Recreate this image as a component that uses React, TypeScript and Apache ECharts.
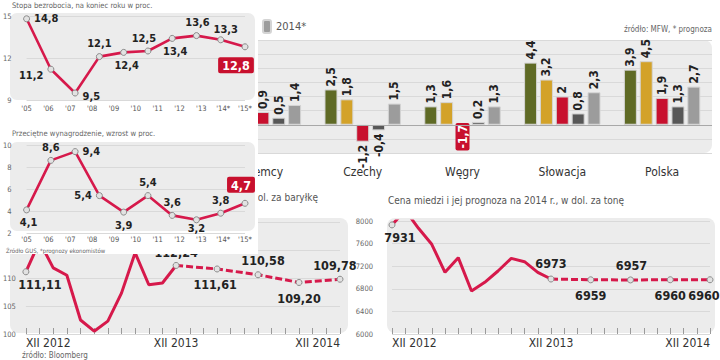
import React, { useEffect, useRef } from 'react';
import * as echarts from 'echarts';

// ---------- DATA ----------
const yearLabels = ["'05", "'06", "'07", "'08", "'09", "'10", "'11", "'12", "'13", "'14*", "'15*"];
const pointYears = ['2006', '2007', '2008', '2009', '2010', '2011', '2012', '2013', '2014*', '2015*'];
const unemployment = [14.8, 11.2, 9.5, 12.1, 12.4, 12.5, 13.4, 13.6, 13.3, 12.8];
const wages = [4.1, 8.6, 9.4, 5.4, 3.9, 5.4, 3.6, 3.2, 3.8, 4.7];

const countries = ['Niemcy', 'Czechy', 'Węgry', 'Słowacja', 'Polska'];
const gdpYears = ['2010', '2011', '2012', '2013', '2014*'];
const gdp2010 = [4.0, 2.5, 1.3, 4.4, 3.9];
const gdp2011 = [3.3, 1.8, 1.6, 3.2, 4.5];
const gdp2012 = [0.9, -1.2, -1.7, 2, 1.9];
const gdp2013 = [0.5, -0.4, 0.2, 0.8, 1.3];
const gdp2014 = [1.4, 1.5, 1.3, 2.3, 2.7];

const oilMonths = ['XII 2012', 'I 2013', 'II 2013', 'III 2013', 'IV 2013', 'V 2013', 'VI 2013', 'VII 2013', 'VIII 2013', 'IX 2013', 'X 2013', 'XI 2013',
  'I 2014', 'II 2014', 'III 2014', 'IV 2014', 'V 2014', 'VI 2014', 'VII 2014', 'VIII 2014', 'IX 2014', 'X 2014', 'XI 2014', 'XII 2014'];
const oilTickLabels = ['XII 2012', '', '', '', '', '', '', '', '', '', '', 'XII 2013', '', '', '', '', '', '', '', '', '', '', '', 'XII 2014'];
const oilHist = [111.11, 116.5, 111.8, 110.5, 102.5, 100.5, 102.3, 107.3, 114.5, 108.8, 109.1, 112.24];
const oilForecastMonths = ['XI 2013', 'III 2014', 'VI 2014', 'IX 2014', 'XII 2014'];
const oilForecast = [112.24, 111.61, 110.58, 109.2, 109.78];

const copperMonths = ['XII 2012', 'I 2013', 'II 2013', 'III 2013', 'IV 2013', 'V 2013', 'VI 2013', 'VII 2013', 'VIII 2013', 'IX 2013', 'X 2013', 'XI 2013', 'XII 2013',
  'I 2014', 'II 2014', 'III 2014', 'IV 2014', 'V 2014', 'VI 2014', 'VII 2014', 'VIII 2014', 'IX 2014', 'X 2014', 'XI 2014', 'XII 2014'];
const copperTickLabels = ['XII 2012', '', '', '', '', '', '', '', '', '', '', '', 'XII 2013', '', '', '', '', '', '', '', '', '', '', '', 'XII 2014'];
const copperHist = [7931, 8190, 7871, 7588, 7092, 7351, 6761, 6915, 7115, 7339, 7280, 7092, 6973];
const copperForecastMonths = ['XII 2013', 'III 2014', 'VI 2014', 'IX 2014', 'XII 2014'];
const copperForecast = [6973, 6959, 6957, 6960, 6960];

// ---------- STYLE ----------
const NARROW = '"Liberation Sans Narrow", "Arial Narrow", "DejaVu Sans Condensed", "Roboto Condensed", Roboto, sans-serif';
const RED_LINE = '#d6194b';
const RED_BOX = '#c8102e';
const BG = '#ececec';
const GRID_LINE = '#d9d9d9';
const barColors = ['#5f6a25', '#d3a229', '#c8102e', '#575757', '#9c9c9c'];

const comma = (v: number) => String(v).replace('.', ',');
const comma2 = (v: number) => v.toFixed(2).replace('.', ',');

const markerStyle = { color: '#e2e2e2', borderColor: '#8a8a8a', borderWidth: 1 };
const boxLabel = { backgroundColor: RED_BOX, color: '#fff', padding: [2, 4, 1, 4], borderRadius: 2, fontSize: 12.5 };

type LP = [string, number[], number?];
const uPos: LP[] = [['right', [0, 0]], ['left', [0, 6]], ['right', [0, 3]], ['top', [0, 0]], ['bottom', [3, 0]], ['top', [-4, 0]], ['bottom', [3, 0]], ['top', [1, 0]], ['top', [5, 0], 1], ['bottom', [-9, 3]]];
const wPos: LP[] = [['bottom', [2, 0]], ['top', [0, 0]], ['right', [0, 0]], ['left', [0, 0]], ['bottom', [0, 0]], ['top', [0, 0]], ['top', [0, 0]], ['bottom', [0, -1], 1], ['top', [0, 0]], ['top', [-4, -3]]];

function smallLine(values: number[], pos: LP[], xAxisIndex: number, yAxisIndex: number) {
  return {
    type: 'line', xAxisIndex, yAxisIndex, data: values.map((v, i) => ({
      value: v,
      label: Object.assign({ position: pos[i][0], offset: pos[i][1], distance: pos[i][2] ?? 4 }, i === values.length - 1 ? boxLabel : {}),
    })),
    symbol: 'circle', symbolSize: 6, itemStyle: markerStyle,
    lineStyle: { color: RED_LINE, width: 2.6 },
    label: { show: true, formatter: (p: any) => comma(p.value), fontFamily: NARROW, fontWeight: 'bold', fontSize: 11, color: '#222' },
    z: 3,
  };
}

const tickLabelStyle = { fontFamily: NARROW, fontSize: 7.5, color: '#666' };

const overOption: any = {
  animation: false,
  backgroundColor: '#fff',
  graphic: [
    { type: 'rect', shape: { x: 10, y: 13, width: 245, height: 87, r: 7 }, style: { fill: BG }, z: -1 },
    { type: 'rect', shape: { x: 10, y: 142, width: 245, height: 89, r: 7 }, style: { fill: BG }, z: -1 },
    { type: 'text', x: 12, y: 5, style: { text: 'Stopa bezrobocia, na koniec roku w proc.', fontFamily: NARROW, fontSize: 7.6, fill: '#666', textVerticalAlign: 'middle' } },
    { type: 'text', x: 12, y: 133, style: { text: 'Przeciętne wynagrodzenie, wzrost w proc.', fontFamily: NARROW, fontSize: 7.6, fill: '#666', textVerticalAlign: 'middle' } },
    { type: 'text', x: 6, y: 250, style: { text: 'Źródło GUS, *prognozy ekonomistów', fontFamily: NARROW, fontSize: 6, fill: '#666', textVerticalAlign: 'middle' } },
  ],
  grid: [
    { left: 23, right: 13, top: 16, height: 84 },
    { left: 23, right: 13, top: 145, height: 88 },
  ],
  xAxis: [
    { type: 'category', gridIndex: 0, data: yearLabels, boundaryGap: false, axisLine: { show: false }, axisTick: { show: false }, axisLabel: { ...tickLabelStyle, color: '#555', margin: 4 } },
    { type: 'category', gridIndex: 0, data: pointYears, boundaryGap: false, show: false },
    { type: 'category', gridIndex: 1, data: yearLabels, boundaryGap: false, axisLine: { show: false }, axisTick: { show: false }, axisLabel: { ...tickLabelStyle, color: '#555', margin: 2 } },
    { type: 'category', gridIndex: 1, data: pointYears, boundaryGap: false, show: false },
  ],
  yAxis: [
    { type: 'value', gridIndex: 0, min: 9, max: 15, interval: 3, axisLine: { show: false }, axisTick: { show: false }, axisLabel: { ...tickLabelStyle, margin: 15 }, splitLine: { lineStyle: { color: GRID_LINE } } },
    { type: 'value', gridIndex: 1, min: 2, max: 10, interval: 2, axisLine: { show: false }, axisTick: { show: false }, axisLabel: { ...tickLabelStyle, margin: 15 }, splitLine: { lineStyle: { color: GRID_LINE } } },
  ],
  series: [
    smallLine(unemployment, uPos, 1, 0),
    smallLine(wages, wPos, 3, 1),
  ],
};

const gdpSeriesValues = [gdp2010, gdp2011, gdp2012, gdp2013, gdp2014];

const barSeries = gdpSeriesValues.map((vals, si) => ({
  type: 'bar', name: gdpYears[si], xAxisIndex: 0, yAxisIndex: 0,
  barWidth: 13, barGap: '22%',
  itemStyle: { color: barColors[si], borderColor: '#d4d4d4', borderWidth: 1 },
  data: vals.map((v, ci) => {
    // labels of the first two German bars lie under the overlaid panel
    if (ci === 0 && si < 2) return { value: v, label: { show: false } };
    if (v <= -1.5) {
      return { value: v, label: { position: 'inside', rotate: 90, align: 'center', verticalAlign: 'middle', color: '#fff', backgroundColor: RED_BOX, padding: [1, 2], borderRadius: 2 } };
    }
    if (v < 0) {
      return { value: v, label: { position: 'bottom', align: 'right' } };
    }
    return v;
  }),
  label: { show: true, position: 'top', rotate: 90, align: 'left', verticalAlign: 'middle', distance: 3, formatter: (p: any) => comma(p.value), fontFamily: NARROW, fontWeight: 'bold', fontSize: 12, color: '#222' },
  markLine: si === 0 ? { silent: true, symbol: 'none', label: { show: false }, lineStyle: { color: '#a8a8a8', width: 1, type: 'solid' }, data: [{ yAxis: 0 }] } : undefined,
  z: 3,
}));

const bigLabel = { show: true, fontFamily: NARROW, fontWeight: 'bold', fontSize: 12.5, color: '#222' };

const oilFPos: LP[] = [['top', [0, 0], 3], ['bottom', [-2, 0], 6], ['top', [5, 0], 4], ['bottom', [0, 0], 6], ['top', [-5, 0], 4]];
const copFPos: LP[] = [['top', [0, 0], 6], ['bottom', [0, 0], 6], ['top', [1, 0], 4], ['bottom', [0, 0], 6], ['bottom', [-6, 0], 6]];

function histSeries(values: number[], xAxisIndex: number, yAxisIndex: number, fmt: (v: number) => string, firstOffset: number[]) {
  return {
    type: 'line', xAxisIndex, yAxisIndex,
    data: values.map((v, i) => i === 0
      ? { value: v, symbol: 'circle', label: { show: true, position: 'bottom', offset: firstOffset, distance: 3 } }
      : { value: v, symbol: 'none' }),
    symbolSize: 6, itemStyle: markerStyle,
    lineStyle: { color: RED_LINE, width: 3 },
    label: { ...bigLabel, show: false, formatter: (p: any) => fmt(p.value) },
    z: 3,
  };
}

function forecastSeries(months: string[], values: number[], pos: LP[], xAxisIndex: number, yAxisIndex: number, fmt: (v: number) => string) {
  return {
    type: 'line', xAxisIndex, yAxisIndex,
    data: months.map((m, i) => ({ value: [m, values[i]], label: { position: pos[i][0], offset: pos[i][1], distance: pos[i][2] } })),
    symbol: 'circle', symbolSize: 6, itemStyle: markerStyle,
    lineStyle: { color: RED_LINE, width: 3, type: [7, 3] },
    label: { ...bigLabel, formatter: (p: any) => fmt(p.value[1]) },
    z: 4,
  };
}

const monthAxis = (gridIndex: number, data: string[], labels: string[]) => ({
  type: 'category', gridIndex, data, boundaryGap: false,
  axisLine: { show: false },
  axisTick: { show: true, inside: true, length: 6, interval: 0, lineStyle: { color: '#9a9a9a' } },
  axisLabel: { interval: 0, formatter: (_v: string, i: number) => labels[i], fontFamily: NARROW, fontSize: 12, color: '#333', margin: 3, alignMinLabel: 'left', alignMaxLabel: 'right' },
});

const baseOption: any = {
  animation: false,
  backgroundColor: '#fff',
  graphic: [
    { type: 'rect', shape: { x: 150, y: 40, width: 562, height: 113, r: 8 }, style: { fill: BG }, z: -1 },
    { type: 'rect', shape: { x: 10, y: 218, width: 338, height: 115, r: 8 }, style: { fill: BG }, z: -1 },
    { type: 'rect', shape: { x: 387, y: 218, width: 328, height: 115, r: 8 }, style: { fill: BG }, z: -1 },
    { type: 'text', x: 712, y: 29, style: { text: 'źródło: MFW, * prognoza', fontFamily: NARROW, fontSize: 8, fill: '#666', textAlign: 'right', textVerticalAlign: 'middle' } },
    { type: 'text', x: 318, y: 197, style: { text: 'dol. za baryłkę', fontFamily: NARROW, fontSize: 10, fill: '#555', textAlign: 'right', textVerticalAlign: 'middle' } },
    { type: 'text', x: 388, y: 200, style: { text: 'Cena miedzi i jej prognoza na 2014 r., w dol. za tonę', fontFamily: NARROW, fontSize: 10, fill: '#555', textVerticalAlign: 'middle' } },
    { type: 'text', x: 22, y: 355, style: { text: 'źródło: Bloomberg', fontFamily: NARROW, fontSize: 8, fill: '#666', textVerticalAlign: 'middle' } },
  ],
  legend: { data: gdpYears.slice(4), left: 257, top: 14, itemWidth: 8, itemHeight: 13, textStyle: { fontFamily: NARROW, fontSize: 11, color: '#555' } },
  grid: [
    { left: 213, right: 8, top: 40, bottom: 207 },
    { left: 25, right: 380, top: 222, bottom: 26 },
    { left: 392, right: 10, top: 221, bottom: 26 },
  ],
  xAxis: [
    { type: 'category', gridIndex: 0, data: countries, axisLine: { show: false, onZero: false }, axisTick: { show: false }, axisLabel: { fontFamily: NARROW, fontSize: 12, color: '#333', margin: 13 } },
    monthAxis(1, oilMonths, oilTickLabels),
    monthAxis(2, copperMonths, copperTickLabels),
  ],
  yAxis: [
    { type: 'value', gridIndex: 0, min: -2, max: 6, interval: 1, axisLabel: { show: false }, axisLine: { show: false }, axisTick: { show: false }, splitLine: { lineStyle: { color: GRID_LINE } } },
    { type: 'value', gridIndex: 1, min: 100, max: 120, interval: 5, axisLine: { show: false }, axisTick: { show: false }, axisLabel: { ...tickLabelStyle, margin: 10, formatter: (v: number) => (v > 110 ? '' : String(v)) }, splitLine: { lineStyle: { color: GRID_LINE } } },
    { type: 'value', gridIndex: 2, min: 6000, max: 8000, interval: 400, axisLine: { show: false }, axisTick: { show: false }, axisLabel: { ...tickLabelStyle, margin: 19, formatter: (v: number) => String(v) }, splitLine: { lineStyle: { color: GRID_LINE } } },
  ],
  series: [
    ...barSeries,
    histSeries(oilHist, 1, 1, comma2, [14, 0]),
    forecastSeries(oilForecastMonths, oilForecast, oilFPos, 1, 1, comma2),
    histSeries(copperHist, 2, 2, (v) => String(v), [8, 0]),
    forecastSeries(copperForecastMonths, copperForecast, copFPos, 2, 2, (v) => String(v)),
  ],
};

export default function App() {
  const baseRef = useRef<HTMLDivElement>(null);
  const overRef = useRef<HTMLDivElement>(null);
  useEffect(() => {
    const base = echarts.init(baseRef.current!, undefined, { renderer: 'svg' });
    base.setOption(baseOption);
    const over = echarts.init(overRef.current!, undefined, { renderer: 'svg' });
    over.setOption(overOption);
    return () => {
      base.dispose();
      over.dispose();
    };
  }, []);
  return (
    <div style={{ position: 'fixed', left: 0, top: 0, width: 720, height: 360, background: '#fff' }}>
      <div ref={baseRef} style={{ position: 'absolute', left: 0, top: 0, width: 720, height: 360 }} />
      <div ref={overRef} style={{ position: 'absolute', left: 0, top: 0, width: 258, height: 254 }} />
    </div>
  );
}
